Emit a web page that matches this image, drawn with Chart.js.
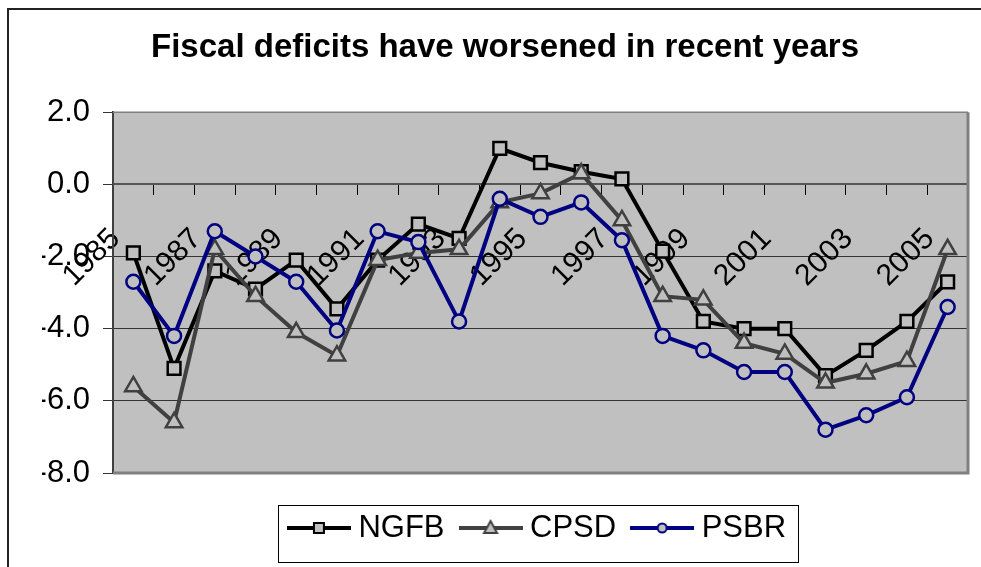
<!DOCTYPE html>
<html><head><meta charset="utf-8">
<script src="https://cdn.jsdelivr.net/npm/chart.js@4"></script>
<style>
html,body{margin:0;padding:0;background:#fff;overflow:hidden;width:981px;height:567px;}
#frame{position:absolute;left:7px;top:8px;width:1100px;height:700px;border:2px solid #222;box-sizing:border-box;}
canvas{position:absolute;left:0;top:0;}
</style></head><body>
<div id="frame"></div>
<canvas id="c" width="981" height="567"></canvas>
<script>
const years = ['1985','1986','1987','1988','1989','1990','1991','1992','1993','1994','1995','1996','1997','1998','1999','2000','2001','2002','2003','2004','2005'];
const ngfb = [-1.9, -5.1, -2.4, -2.9, -2.1, -3.45, -2.1, -1.1, -1.5, 1.0, 0.6, 0.35, 0.15, -1.85, -3.8, -4.0, -4.0, -5.3, -4.6, -3.8, -2.7];
const cpsd = [-5.6, -6.6, -1.8, -3.1, -4.1, -4.75, -2.1, -1.9, -1.8, -0.5, -0.25, 0.3, -1.0, -3.1, -3.2, -4.4, -4.7, -5.5, -5.25, -4.9, -1.8];
const psbr = [-2.7, -4.2, -1.3, -2.0, -2.7, -4.05, -1.3, -1.6, -3.8, -0.4, -0.9, -0.5, -1.55, -4.2, -4.6, -5.2, -5.2, -6.8, -6.4, -5.9, -3.4];
const yTickValues = [-8, -6, -4, -2, 0, 2];
const seriesNames = ['NGFB', 'CPSD', 'PSBR'];
const titleText = 'Fiscal deficits have worsened in recent years';

const FONT = "'Liberation Sans', Arial, sans-serif";
Chart.defaults.font.family = FONT;
Chart.defaults.color = '#000';

function legendImage(color, style) {
  const c = document.createElement('canvas');
  c.width = 64; c.height = 22;
  const g = c.getContext('2d');
  g.strokeStyle = color; g.lineWidth = 4;
  g.beginPath(); g.moveTo(0, 11); g.lineTo(64, 11); g.stroke();
  g.lineWidth = 2; g.fillStyle = '#c0c0c0';
  g.beginPath();
  if (style === 'rect') g.rect(27, 6, 10, 10);
  else if (style === 'triangle') { g.moveTo(32, 4); g.lineTo(38.5, 16); g.lineTo(25.5, 16); g.closePath(); }
  else g.arc(32, 11, 4.5, 0, Math.PI * 2);
  g.fill(); g.stroke();
  return c;
}
const legendImgs = [legendImage('#000', 'rect'), legendImage('#404040', 'triangle'), legendImage('#000080', 'circle')];

const LEGEND_SHIFT = 17.5;
const framePlugin = {
  id: 'framePlugin',
  afterLayout(chart) {
    chart.legend.top += LEGEND_SHIFT;
    chart.legend.bottom += LEGEND_SHIFT;
  },
  beforeDraw(chart) {
    const {ctx, chartArea: a} = chart;
    ctx.save();
    ctx.fillStyle = '#c0c0c0';
    ctx.fillRect(a.left, a.top, a.right - a.left, a.bottom - a.top);
    ctx.restore();
  },
  beforeDatasetsDraw(chart) {
    const {ctx, chartArea: a} = chart;
    ctx.save();
    ctx.strokeStyle = '#808080';
    ctx.lineWidth = 3;
    ctx.beginPath();
    ctx.moveTo(a.left, a.bottom); ctx.lineTo(a.right, a.bottom); ctx.lineTo(a.right, a.top);
    ctx.stroke();
    ctx.lineWidth = 1.5;
    ctx.beginPath(); ctx.moveTo(a.left, a.top); ctx.lineTo(a.right, a.top); ctx.stroke();
    ctx.restore();
  },
  afterDraw(chart) {
    const lg = chart.legend;
    const hb = lg.legendHitBoxes;
    if (!hb || !hb.length) return;
    const ctx = chart.ctx;
    const last = hb[hb.length - 1];
    const cy = hb[0].top + hb[0].height / 2;
    const x1 = hb[0].left - 17, x2 = last.left + last.width + 12;
    ctx.save();
    ctx.strokeStyle = '#000'; ctx.lineWidth = 1;
    ctx.strokeRect(Math.round(x1) + 0.5, Math.round(cy - 23) + 0.5, Math.round(x2 - x1), 57);
    ctx.restore();
  }
};

new Chart(document.getElementById('c'), {
  type: 'line',
  data: {
    labels: years,
    datasets: [
      {label: seriesNames[0], data: ngfb, borderColor: '#000', borderWidth: 4, pointStyle: 'rect', pointRadius: 9,
       pointBorderWidth: 2.5, pointBorderColor: '#000', pointBackgroundColor: '#c0c0c0', tension: 0, order: 3},
      {label: seriesNames[1], data: cpsd, borderColor: '#404040', borderWidth: 4, pointStyle: 'triangle', pointRadius: 9.5,
       pointBorderWidth: 2.5, pointBorderColor: '#404040', pointBackgroundColor: '#c0c0c0', tension: 0, order: 2},
      {label: seriesNames[2], data: psbr, borderColor: '#000080', borderWidth: 4, pointStyle: 'circle', pointRadius: 7,
       pointBorderWidth: 2.5, pointBorderColor: '#000080', pointBackgroundColor: '#c0c0c0', tension: 0, order: 1}
    ]
  },
  options: {
    responsive: false,
    animation: false,
    devicePixelRatio: 1,
    layout: {padding: {left: 42, right: 13, top: 0, bottom: 31}},
    plugins: {
      title: {display: true, text: titleText, color: '#000', font: {family: FONT, size: 33, weight: 'bold'},
              padding: {top: 27.8, bottom: 44.8}},
      legend: {
        display: true, position: 'bottom', fullSize: false,
        labels: {
          usePointStyle: true, pointStyleWidth: 48, padding: 22, color: '#000',
          font: {family: FONT, size: 31},
          generateLabels: (chart) => chart.data.datasets.map((ds, i) => ({
            text: ds.label, pointStyle: legendImgs[i], fillStyle: 'rgba(0,0,0,0)', strokeStyle: 'rgba(0,0,0,0)',
            lineWidth: 0, hidden: false, datasetIndex: i, fontColor: '#000'
          }))
        }
      },
      tooltip: {enabled: false}
    },
    scales: {
      x: {
        position: {y: 0},
        offset: true,
        grid: {display: true, drawOnChartArea: false, offset: true, tickLength: 10, color: '#000', lineWidth: 1},
        border: {display: true, color: '#555', width: 2},
        ticks: {autoSkip: false, maxRotation: 45, minRotation: 45, padding: 27, labelOffset: -18,
                font: {family: FONT, size: 30}, color: '#000',
                callback: (v, i) => (i % 2 === 0 ? years[i] : '')},
        afterFit: (s) => { s.paddingLeft = 0; s.paddingRight = 0; }
      },
      y: {
        min: -8, max: 2,
        afterBuildTicks: (s) => { s.ticks = yTickValues.map(v => ({value: v})); },
        grid: {color: '#333', lineWidth: 1, tickLength: 10},
        border: {display: true, color: '#404040', width: 2},
        ticks: {padding: 13, font: {family: FONT, size: 31}, color: '#000',
                callback: (v) => Number(v).toFixed(1)},
        afterFit: (s) => { s.width = 71; }
      }
    }
  },
  plugins: [framePlugin]
});
</script>
</body></html>
